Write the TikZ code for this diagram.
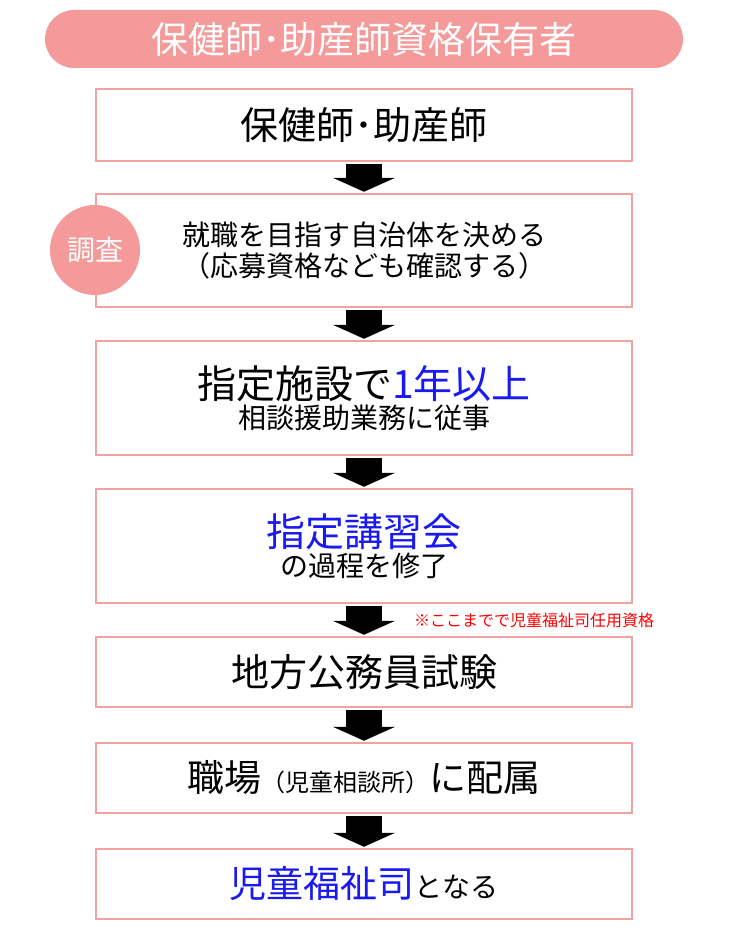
\documentclass[tikz,border=0pt]{standalone}
\usepackage{fontspec}
\setmainfont{Noto Sans CJK JP}
\usetikzlibrary{arrows.meta}
\definecolor{pinkfill}{HTML}{F59A9A}
\definecolor{pinkline}{HTML}{F2A0A0}
\definecolor{bluetext}{HTML}{1A1AF0}
\newcommand{\fs}[1]{\fontsize{#1}{#1}\selectfont}
\begin{document}
\begin{tikzpicture}[x=1pt,y=-1pt]
\tikzset{every node/.style={inner sep=0pt}}
\tikzstyle{stepbox}=[draw=pinkline, line width=2.5pt, fill=white, minimum width=536pt, align=center]
\tikzstyle{flow}=[draw=black, line width=36pt, -{Triangle[width=62pt,length=14pt]}, shorten <=2pt, shorten >=1pt]
\useasboundingbox (0,0) rectangle (728,950);
% title
\node[fill=pinkfill, rounded corners=29pt, minimum width=638pt, minimum height=58pt, text=white] (top) at (364,39) {\fs{37}保健師･助産師資格保有者};
% boxes
\node[stepbox, minimum height=72pt] (b1) at (364,125) {\fs{38}保健師･助産師};
\node[stepbox, minimum height=113pt] (b2) at (364,250.5) {\fs{28}就職を目指す自治体を決める\\[4pt]\fs{28}（応募資格なども確認する）};
\node[stepbox, minimum height=114pt] (b3) at (364,398) {\fs{39}指定施設で\textcolor{bluetext}{1年以上}\\[2pt]\fs{28}相談援助業務に従事};
\node[stepbox, minimum height=114pt] (b4) at (364,546) {\fs{39}\textcolor{bluetext}{指定講習会}\\[2pt]\fs{28}の過程を修了};
\node[stepbox, minimum height=70pt] (b5) at (364,672) {\fs{38}地方公務員試験};
\node[stepbox, minimum height=70pt] (b6) at (364,778) {\fs{37}職場\fs{24}（児童相談所）\fs{37}に配属};
\node[stepbox, minimum height=70pt] (b7) at (364,884) {\fs{37}\textcolor{bluetext}{児童福祉司}\fs{28}となる};
% side circle and note
\node[circle, fill=pinkfill, minimum size=90pt, text=white] (survey) at (95,250) {\fs{28}調査};
\node[anchor=west, text=red] (note) at (414,620) {\fs{16}※ここまでで児童福祉司任用資格};
% arrows
\draw[flow] (b1) -- (b2);
\draw[flow] (b2) -- (b3);
\draw[flow] (b3) -- (b4);
\draw[flow] (b4) -- (b5);
\draw[flow] (b5) -- (b6);
\draw[flow] (b6) -- (b7);
\end{tikzpicture}
\end{document}
